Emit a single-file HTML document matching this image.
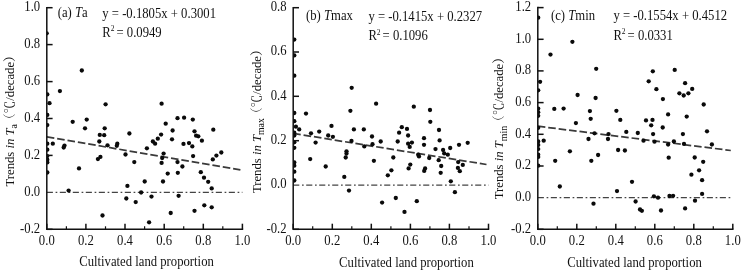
<!DOCTYPE html>
<html><head><meta charset="utf-8"><title>Trends vs cultivated land proportion</title>
<style>
html,body{margin:0;padding:0;background:#fff;}
svg{display:block}
text{font-family:"Liberation Serif","Noto Serif CJK SC",serif;fill:#111;}
.tk{font-size:12.7px}
.lb{font-size:12.7px}
.ax{stroke:#111;stroke-width:1.5;fill:none;stroke-linecap:butt}
.mt{stroke:#111;stroke-width:1.2;fill:none}
.reg{stroke:#3a3a3a;stroke-width:1.75;stroke-dasharray:7.6 2.9;fill:none}
.zero{stroke:#444;stroke-width:1.25;stroke-dasharray:6.1 2.7 1.7 2.5;fill:none}
circle{fill:#0a0a0a}
</style></head><body>
<svg width="742" height="271" viewBox="0 0 742 271">
<rect width="742" height="271" fill="#fff"/>

<g>
<line class="zero" x1="46.8" y1="192.4" x2="242.4" y2="192.4"/>
<line class="reg" x1="46.8" y1="136.9" x2="240.4" y2="169.9"/>
<clipPath id="c46"><rect x="46.8" y="0" width="198.6" height="229.3"/></clipPath>
<g clip-path="url(#c46)">
<circle cx="46.7" cy="33.3" r="2.15"/>
<circle cx="81.8" cy="70.5" r="2.15"/>
<circle cx="47.3" cy="94.4" r="2.15"/>
<circle cx="59.9" cy="91.1" r="2.15"/>
<circle cx="49.5" cy="103.2" r="2.15"/>
<circle cx="47.3" cy="114.9" r="2.15"/>
<circle cx="47.3" cy="125.1" r="2.15"/>
<circle cx="72.7" cy="121.8" r="2.15"/>
<circle cx="86.7" cy="119.6" r="2.15"/>
<circle cx="85.0" cy="128.3" r="2.15"/>
<circle cx="105.6" cy="104.3" r="2.15"/>
<circle cx="104.7" cy="128.3" r="2.15"/>
<circle cx="99.8" cy="134.9" r="2.15"/>
<circle cx="104.2" cy="135.2" r="2.15"/>
<circle cx="99.3" cy="141.5" r="2.15"/>
<circle cx="107.5" cy="145.3" r="2.15"/>
<circle cx="117.3" cy="143.7" r="2.15"/>
<circle cx="116.8" cy="145.8" r="2.15"/>
<circle cx="52.8" cy="143.7" r="2.15"/>
<circle cx="64.5" cy="145.6" r="2.15"/>
<circle cx="63.7" cy="147.5" r="2.15"/>
<circle cx="47.3" cy="143.7" r="2.15"/>
<circle cx="47.3" cy="149.7" r="2.15"/>
<circle cx="129.4" cy="133.5" r="2.15"/>
<circle cx="161.6" cy="103.7" r="2.15"/>
<circle cx="165.7" cy="123.7" r="2.15"/>
<circle cx="177.5" cy="118.2" r="2.15"/>
<circle cx="184.1" cy="117.7" r="2.15"/>
<circle cx="192.8" cy="119.6" r="2.15"/>
<circle cx="172.6" cy="130.5" r="2.15"/>
<circle cx="161.1" cy="134.6" r="2.15"/>
<circle cx="157.8" cy="138.7" r="2.15"/>
<circle cx="152.9" cy="141.5" r="2.15"/>
<circle cx="155.1" cy="143.7" r="2.15"/>
<circle cx="146.9" cy="148.3" r="2.15"/>
<circle cx="172.0" cy="139.3" r="2.15"/>
<circle cx="194.5" cy="131.3" r="2.15"/>
<circle cx="196.1" cy="135.7" r="2.15"/>
<circle cx="198.3" cy="136.3" r="2.15"/>
<circle cx="201.9" cy="140.7" r="2.15"/>
<circle cx="183.5" cy="143.9" r="2.15"/>
<circle cx="189.0" cy="143.1" r="2.15"/>
<circle cx="192.3" cy="146.4" r="2.15"/>
<circle cx="213.3" cy="129.7" r="2.15"/>
<circle cx="47.3" cy="156.1" r="2.15"/>
<circle cx="47.3" cy="159.7" r="2.15"/>
<circle cx="47.3" cy="162.4" r="2.15"/>
<circle cx="47.3" cy="172.5" r="2.15"/>
<circle cx="79.0" cy="168.4" r="2.15"/>
<circle cx="97.9" cy="159.1" r="2.15"/>
<circle cx="100.4" cy="156.9" r="2.15"/>
<circle cx="125.5" cy="154.5" r="2.15"/>
<circle cx="134.3" cy="162.1" r="2.15"/>
<circle cx="68.6" cy="190.6" r="2.15"/>
<circle cx="127.4" cy="185.9" r="2.15"/>
<circle cx="144.7" cy="181.5" r="2.15"/>
<circle cx="141.1" cy="192.5" r="2.15"/>
<circle cx="126.3" cy="198.5" r="2.15"/>
<circle cx="135.7" cy="202.1" r="2.15"/>
<circle cx="151.5" cy="196.6" r="2.15"/>
<circle cx="102.5" cy="215.5" r="2.15"/>
<circle cx="149.1" cy="222.3" r="2.15"/>
<circle cx="163.6" cy="153.6" r="2.15"/>
<circle cx="162.2" cy="158.0" r="2.15"/>
<circle cx="161.6" cy="162.9" r="2.15"/>
<circle cx="177.5" cy="162.1" r="2.15"/>
<circle cx="182.4" cy="166.5" r="2.15"/>
<circle cx="177.8" cy="172.8" r="2.15"/>
<circle cx="167.7" cy="173.6" r="2.15"/>
<circle cx="163.0" cy="181.5" r="2.15"/>
<circle cx="193.1" cy="156.1" r="2.15"/>
<circle cx="200.8" cy="172.2" r="2.15"/>
<circle cx="204.0" cy="177.7" r="2.15"/>
<circle cx="208.2" cy="181.8" r="2.15"/>
<circle cx="211.7" cy="188.4" r="2.15"/>
<circle cx="212.8" cy="159.4" r="2.15"/>
<circle cx="216.4" cy="155.6" r="2.15"/>
<circle cx="221.3" cy="152.5" r="2.15"/>
<circle cx="178.6" cy="195.8" r="2.15"/>
<circle cx="170.7" cy="213.0" r="2.15"/>
<circle cx="194.5" cy="210.8" r="2.15"/>
<circle cx="204.3" cy="205.3" r="2.15"/>
<circle cx="211.7" cy="207.3" r="2.15"/>
</g>
<path class="ax" d="M46.8 7.0V229.3H243.2"/>
<line class="ax" x1="46.8" y1="229.3" x2="52.6" y2="229.3"/>
<text class="tk" transform="translate(40.2 232.5) scale(1 1.11)" text-anchor="end">-0.2</text>
<text class="tk" transform="translate(40.2 195.6) scale(1 1.11)" text-anchor="end">0.0</text>
<line class="ax" x1="46.8" y1="155.4" x2="52.6" y2="155.4"/>
<text class="tk" transform="translate(40.2 158.6) scale(1 1.11)" text-anchor="end">0.2</text>
<line class="ax" x1="46.8" y1="118.5" x2="52.6" y2="118.5"/>
<text class="tk" transform="translate(40.2 121.7) scale(1 1.11)" text-anchor="end">0.4</text>
<line class="ax" x1="46.8" y1="81.6" x2="52.6" y2="81.6"/>
<text class="tk" transform="translate(40.2 84.8) scale(1 1.11)" text-anchor="end">0.6</text>
<line class="ax" x1="46.8" y1="44.6" x2="52.6" y2="44.6"/>
<text class="tk" transform="translate(40.2 47.8) scale(1 1.11)" text-anchor="end">0.8</text>
<line class="ax" x1="46.8" y1="7.7" x2="52.6" y2="7.7"/>
<text class="tk" transform="translate(40.2 10.9) scale(1 1.11)" text-anchor="end">1.0</text>
<line class="ax" x1="46.8" y1="229.3" x2="46.8" y2="223.7"/>
<text class="tk" transform="translate(46.8 245.2) scale(1 1.11)" text-anchor="middle">0.0</text>
<line class="mt" x1="66.4" y1="229.3" x2="66.4" y2="226.3"/>
<line class="ax" x1="85.9" y1="229.3" x2="85.9" y2="223.7"/>
<text class="tk" transform="translate(85.9 245.2) scale(1 1.11)" text-anchor="middle">0.2</text>
<line class="mt" x1="105.5" y1="229.3" x2="105.5" y2="226.3"/>
<line class="ax" x1="125.0" y1="229.3" x2="125.0" y2="223.7"/>
<text class="tk" transform="translate(125.0 245.2) scale(1 1.11)" text-anchor="middle">0.4</text>
<line class="mt" x1="144.6" y1="229.3" x2="144.6" y2="226.3"/>
<line class="ax" x1="164.2" y1="229.3" x2="164.2" y2="223.7"/>
<text class="tk" transform="translate(164.2 245.2) scale(1 1.11)" text-anchor="middle">0.6</text>
<line class="mt" x1="183.7" y1="229.3" x2="183.7" y2="226.3"/>
<line class="ax" x1="203.3" y1="229.3" x2="203.3" y2="223.7"/>
<text class="tk" transform="translate(203.3 245.2) scale(1 1.11)" text-anchor="middle">0.8</text>
<line class="mt" x1="222.8" y1="229.3" x2="222.8" y2="226.3"/>
<line class="ax" x1="242.4" y1="229.3" x2="242.4" y2="223.7"/>
<text class="tk" transform="translate(242.4 245.2) scale(1 1.11)" text-anchor="middle">1.0</text>
<text class="lb" transform="translate(57.7 17.3) scale(1 1.11)">(a) <tspan font-style="italic">T</tspan>a</text>
<text class="lb" transform="translate(102.3 18.2) scale(1 1.11)">y = -0.1805x + 0.3001</text>
<text class="lb" transform="translate(102.3 36.8) scale(1 1.11)">R<tspan font-size="7.5" dy="-5">2</tspan><tspan dy="5" dx="-1.2"> = 0.0949</tspan></text>
<text class="lb" transform="translate(79.2 265.6) scale(1 1.11)">Cultivated land proportion</text>
<text class="lb" transform="translate(13.7 117.9) rotate(-90)" text-anchor="middle">Trends <tspan font-style="italic">in T</tspan><tspan font-size="9.8" dy="3.7">a</tspan><tspan dy="-3.7" dx="-2">（℃/decade）</tspan></text>
</g>
<g>
<line class="zero" x1="293.2" y1="185.0" x2="488.5" y2="185.0"/>
<line class="reg" x1="293.2" y1="133.4" x2="486.5" y2="164.5"/>
<clipPath id="c293"><rect x="293.2" y="0" width="198.3" height="229.3"/></clipPath>
<g clip-path="url(#c293)">
<circle cx="294.3" cy="39.6" r="2.15"/>
<circle cx="294.3" cy="55.4" r="2.15"/>
<circle cx="294.3" cy="75.7" r="2.15"/>
<circle cx="294.3" cy="113.0" r="2.15"/>
<circle cx="294.3" cy="121.2" r="2.15"/>
<circle cx="295.9" cy="126.7" r="2.15"/>
<circle cx="294.3" cy="132.7" r="2.15"/>
<circle cx="294.3" cy="135.5" r="2.15"/>
<circle cx="299.2" cy="129.4" r="2.15"/>
<circle cx="294.3" cy="142.3" r="2.15"/>
<circle cx="294.3" cy="147.8" r="2.15"/>
<circle cx="306.0" cy="113.6" r="2.15"/>
<circle cx="311.0" cy="133.3" r="2.15"/>
<circle cx="315.6" cy="142.6" r="2.15"/>
<circle cx="319.2" cy="131.6" r="2.15"/>
<circle cx="328.2" cy="135.5" r="2.15"/>
<circle cx="331.5" cy="125.9" r="2.15"/>
<circle cx="332.9" cy="136.8" r="2.15"/>
<circle cx="351.7" cy="87.8" r="2.15"/>
<circle cx="350.4" cy="110.8" r="2.15"/>
<circle cx="353.9" cy="129.4" r="2.15"/>
<circle cx="351.5" cy="140.9" r="2.15"/>
<circle cx="346.5" cy="151.3" r="2.15"/>
<circle cx="363.8" cy="129.4" r="2.15"/>
<circle cx="364.3" cy="146.4" r="2.15"/>
<circle cx="372.0" cy="136.5" r="2.15"/>
<circle cx="372.5" cy="144.2" r="2.15"/>
<circle cx="380.7" cy="141.5" r="2.15"/>
<circle cx="376.1" cy="103.7" r="2.15"/>
<circle cx="397.7" cy="141.5" r="2.15"/>
<circle cx="399.1" cy="132.7" r="2.15"/>
<circle cx="401.8" cy="127.2" r="2.15"/>
<circle cx="407.0" cy="128.9" r="2.15"/>
<circle cx="408.1" cy="135.5" r="2.15"/>
<circle cx="408.1" cy="143.7" r="2.15"/>
<circle cx="411.9" cy="142.6" r="2.15"/>
<circle cx="409.7" cy="146.9" r="2.15"/>
<circle cx="413.8" cy="106.7" r="2.15"/>
<circle cx="430.0" cy="110.0" r="2.15"/>
<circle cx="430.3" cy="121.8" r="2.15"/>
<circle cx="424.0" cy="138.2" r="2.15"/>
<circle cx="424.0" cy="144.8" r="2.15"/>
<circle cx="439.0" cy="130.0" r="2.15"/>
<circle cx="439.6" cy="140.4" r="2.15"/>
<circle cx="435.5" cy="149.1" r="2.15"/>
<circle cx="443.1" cy="150.0" r="2.15"/>
<circle cx="450.2" cy="148.0" r="2.15"/>
<circle cx="459.0" cy="144.8" r="2.15"/>
<circle cx="467.7" cy="142.8" r="2.15"/>
<circle cx="294.3" cy="162.4" r="2.15"/>
<circle cx="294.3" cy="165.7" r="2.15"/>
<circle cx="294.3" cy="171.7" r="2.15"/>
<circle cx="294.3" cy="180.5" r="2.15"/>
<circle cx="310.2" cy="159.1" r="2.15"/>
<circle cx="325.7" cy="166.5" r="2.15"/>
<circle cx="346.5" cy="153.6" r="2.15"/>
<circle cx="345.7" cy="157.5" r="2.15"/>
<circle cx="344.3" cy="176.9" r="2.15"/>
<circle cx="349.0" cy="190.6" r="2.15"/>
<circle cx="373.9" cy="160.8" r="2.15"/>
<circle cx="393.3" cy="157.5" r="2.15"/>
<circle cx="391.4" cy="170.3" r="2.15"/>
<circle cx="387.8" cy="175.3" r="2.15"/>
<circle cx="382.1" cy="202.6" r="2.15"/>
<circle cx="395.8" cy="198.0" r="2.15"/>
<circle cx="404.5" cy="211.9" r="2.15"/>
<circle cx="418.2" cy="154.7" r="2.15"/>
<circle cx="419.0" cy="156.4" r="2.15"/>
<circle cx="410.3" cy="164.6" r="2.15"/>
<circle cx="408.6" cy="168.4" r="2.15"/>
<circle cx="425.1" cy="168.4" r="2.15"/>
<circle cx="424.2" cy="170.9" r="2.15"/>
<circle cx="429.2" cy="158.0" r="2.15"/>
<circle cx="416.8" cy="201.2" r="2.15"/>
<circle cx="438.7" cy="160.2" r="2.15"/>
<circle cx="441.2" cy="166.0" r="2.15"/>
<circle cx="440.7" cy="172.8" r="2.15"/>
<circle cx="444.2" cy="153.4" r="2.15"/>
<circle cx="447.8" cy="154.7" r="2.15"/>
<circle cx="450.8" cy="181.3" r="2.15"/>
<circle cx="454.9" cy="192.2" r="2.15"/>
<circle cx="458.2" cy="162.1" r="2.15"/>
<circle cx="457.9" cy="167.9" r="2.15"/>
<circle cx="459.8" cy="171.2" r="2.15"/>
<circle cx="462.8" cy="164.9" r="2.15"/>
</g>
<path class="ax" d="M293.2 7.0V229.3H489.2"/>
<line class="ax" x1="293.2" y1="229.3" x2="299.0" y2="229.3"/>
<text class="tk" transform="translate(286.6 232.5) scale(1 1.11)" text-anchor="end">-0.2</text>
<text class="tk" transform="translate(286.6 188.2) scale(1 1.11)" text-anchor="end">0.0</text>
<line class="ax" x1="293.2" y1="140.7" x2="299.0" y2="140.7"/>
<text class="tk" transform="translate(286.6 143.9) scale(1 1.11)" text-anchor="end">0.2</text>
<line class="ax" x1="293.2" y1="96.3" x2="299.0" y2="96.3"/>
<text class="tk" transform="translate(286.6 99.5) scale(1 1.11)" text-anchor="end">0.4</text>
<line class="ax" x1="293.2" y1="52.0" x2="299.0" y2="52.0"/>
<text class="tk" transform="translate(286.6 55.2) scale(1 1.11)" text-anchor="end">0.6</text>
<line class="ax" x1="293.2" y1="7.7" x2="299.0" y2="7.7"/>
<text class="tk" transform="translate(286.6 10.9) scale(1 1.11)" text-anchor="end">0.8</text>
<line class="ax" x1="293.2" y1="229.3" x2="293.2" y2="223.7"/>
<text class="tk" transform="translate(293.2 245.2) scale(1 1.11)" text-anchor="middle">0.0</text>
<line class="mt" x1="312.7" y1="229.3" x2="312.7" y2="226.3"/>
<line class="ax" x1="332.3" y1="229.3" x2="332.3" y2="223.7"/>
<text class="tk" transform="translate(332.3 245.2) scale(1 1.11)" text-anchor="middle">0.2</text>
<line class="mt" x1="351.8" y1="229.3" x2="351.8" y2="226.3"/>
<line class="ax" x1="371.3" y1="229.3" x2="371.3" y2="223.7"/>
<text class="tk" transform="translate(371.3 245.2) scale(1 1.11)" text-anchor="middle">0.4</text>
<line class="mt" x1="390.9" y1="229.3" x2="390.9" y2="226.3"/>
<line class="ax" x1="410.4" y1="229.3" x2="410.4" y2="223.7"/>
<text class="tk" transform="translate(410.4 245.2) scale(1 1.11)" text-anchor="middle">0.6</text>
<line class="mt" x1="429.9" y1="229.3" x2="429.9" y2="226.3"/>
<line class="ax" x1="449.4" y1="229.3" x2="449.4" y2="223.7"/>
<text class="tk" transform="translate(449.4 245.2) scale(1 1.11)" text-anchor="middle">0.8</text>
<line class="mt" x1="469.0" y1="229.3" x2="469.0" y2="226.3"/>
<line class="ax" x1="488.5" y1="229.3" x2="488.5" y2="223.7"/>
<text class="tk" transform="translate(488.5 245.2) scale(1 1.11)" text-anchor="middle">1.0</text>
<text class="lb" transform="translate(306.0 20.4) scale(1 1.11)">(b) <tspan font-style="italic">T</tspan>max</text>
<text class="lb" transform="translate(368.4 21.0) scale(1 1.11)">y = -0.1415x + 0.2327</text>
<text class="lb" transform="translate(368.4 40.1) scale(1 1.11)">R<tspan font-size="7.5" dy="-5">2</tspan><tspan dy="5" dx="-1.2"> = 0.1096</tspan></text>
<text class="lb" transform="translate(339.1 266.8) scale(1 1.11)">Cultivated land proportion</text>
<text class="lb" transform="translate(260.5 118.2) rotate(-90)" text-anchor="middle">Trends <tspan font-style="italic">in T</tspan><tspan font-size="9.8" dy="3.7">max</tspan><tspan dy="-3.7" dx="-2">（℃/decade）</tspan></text>
</g>
<g>
<line class="zero" x1="537.8" y1="197.6" x2="732.8" y2="197.6"/>
<line class="reg" x1="537.8" y1="126.2" x2="730.8" y2="150.5"/>
<clipPath id="c537"><rect x="537.8" y="0" width="198.0" height="229.3"/></clipPath>
<g clip-path="url(#c537)">
<circle cx="538.2" cy="17.7" r="2.15"/>
<circle cx="572.4" cy="41.8" r="2.15"/>
<circle cx="550.5" cy="54.6" r="2.15"/>
<circle cx="596.2" cy="68.8" r="2.15"/>
<circle cx="652.8" cy="71.3" r="2.15"/>
<circle cx="674.7" cy="69.9" r="2.15"/>
<circle cx="540.1" cy="81.8" r="2.15"/>
<circle cx="538.2" cy="90.3" r="2.15"/>
<circle cx="538.2" cy="108.6" r="2.15"/>
<circle cx="538.2" cy="112.2" r="2.15"/>
<circle cx="538.2" cy="115.8" r="2.15"/>
<circle cx="538.2" cy="127.8" r="2.15"/>
<circle cx="538.2" cy="141.5" r="2.15"/>
<circle cx="538.2" cy="145.0" r="2.15"/>
<circle cx="538.2" cy="149.1" r="2.15"/>
<circle cx="543.7" cy="140.7" r="2.15"/>
<circle cx="554.3" cy="108.9" r="2.15"/>
<circle cx="563.6" cy="108.6" r="2.15"/>
<circle cx="577.6" cy="95.0" r="2.15"/>
<circle cx="575.9" cy="123.1" r="2.15"/>
<circle cx="569.9" cy="151.3" r="2.15"/>
<circle cx="595.6" cy="98.0" r="2.15"/>
<circle cx="589.9" cy="111.1" r="2.15"/>
<circle cx="590.7" cy="118.8" r="2.15"/>
<circle cx="594.5" cy="133.3" r="2.15"/>
<circle cx="588.5" cy="139.0" r="2.15"/>
<circle cx="608.5" cy="134.1" r="2.15"/>
<circle cx="608.0" cy="139.0" r="2.15"/>
<circle cx="616.4" cy="110.8" r="2.15"/>
<circle cx="620.3" cy="119.9" r="2.15"/>
<circle cx="626.3" cy="131.9" r="2.15"/>
<circle cx="618.1" cy="150.0" r="2.15"/>
<circle cx="624.9" cy="150.5" r="2.15"/>
<circle cx="637.8" cy="133.0" r="2.15"/>
<circle cx="643.5" cy="140.7" r="2.15"/>
<circle cx="646.0" cy="120.4" r="2.15"/>
<circle cx="652.5" cy="119.9" r="2.15"/>
<circle cx="651.2" cy="125.3" r="2.15"/>
<circle cx="653.1" cy="134.1" r="2.15"/>
<circle cx="654.5" cy="141.7" r="2.15"/>
<circle cx="648.7" cy="81.3" r="2.15"/>
<circle cx="656.4" cy="89.2" r="2.15"/>
<circle cx="662.9" cy="99.1" r="2.15"/>
<circle cx="668.1" cy="114.4" r="2.15"/>
<circle cx="662.7" cy="127.5" r="2.15"/>
<circle cx="668.1" cy="144.5" r="2.15"/>
<circle cx="673.9" cy="141.5" r="2.15"/>
<circle cx="679.4" cy="93.3" r="2.15"/>
<circle cx="683.7" cy="95.5" r="2.15"/>
<circle cx="685.1" cy="83.2" r="2.15"/>
<circle cx="688.4" cy="93.3" r="2.15"/>
<circle cx="692.2" cy="88.9" r="2.15"/>
<circle cx="686.7" cy="116.6" r="2.15"/>
<circle cx="682.9" cy="134.1" r="2.15"/>
<circle cx="684.0" cy="143.9" r="2.15"/>
<circle cx="703.7" cy="104.5" r="2.15"/>
<circle cx="707.0" cy="131.3" r="2.15"/>
<circle cx="711.9" cy="144.5" r="2.15"/>
<circle cx="538.2" cy="154.7" r="2.15"/>
<circle cx="538.2" cy="156.9" r="2.15"/>
<circle cx="538.2" cy="165.7" r="2.15"/>
<circle cx="555.2" cy="160.8" r="2.15"/>
<circle cx="559.8" cy="186.5" r="2.15"/>
<circle cx="591.3" cy="160.8" r="2.15"/>
<circle cx="598.1" cy="155.0" r="2.15"/>
<circle cx="593.5" cy="203.7" r="2.15"/>
<circle cx="617.0" cy="191.1" r="2.15"/>
<circle cx="632.0" cy="181.8" r="2.15"/>
<circle cx="635.6" cy="201.5" r="2.15"/>
<circle cx="640.0" cy="209.5" r="2.15"/>
<circle cx="641.9" cy="210.8" r="2.15"/>
<circle cx="653.9" cy="196.3" r="2.15"/>
<circle cx="658.0" cy="197.7" r="2.15"/>
<circle cx="661.0" cy="210.5" r="2.15"/>
<circle cx="668.7" cy="157.7" r="2.15"/>
<circle cx="669.5" cy="196.0" r="2.15"/>
<circle cx="673.1" cy="195.8" r="2.15"/>
<circle cx="685.1" cy="208.4" r="2.15"/>
<circle cx="691.4" cy="174.7" r="2.15"/>
<circle cx="694.7" cy="157.5" r="2.15"/>
<circle cx="699.1" cy="170.3" r="2.15"/>
<circle cx="703.2" cy="161.8" r="2.15"/>
<circle cx="702.1" cy="180.2" r="2.15"/>
<circle cx="702.1" cy="193.9" r="2.15"/>
<circle cx="695.0" cy="200.7" r="2.15"/>
</g>
<path class="ax" d="M537.8 6.8V229.3H733.5"/>
<line class="ax" x1="537.8" y1="229.3" x2="543.6" y2="229.3"/>
<text class="tk" transform="translate(531.2 232.5) scale(1 1.11)" text-anchor="end">-0.2</text>
<text class="tk" transform="translate(531.2 200.8) scale(1 1.11)" text-anchor="end">0.0</text>
<line class="ax" x1="537.8" y1="166.0" x2="543.6" y2="166.0"/>
<text class="tk" transform="translate(531.2 169.2) scale(1 1.11)" text-anchor="end">0.2</text>
<line class="ax" x1="537.8" y1="134.3" x2="543.6" y2="134.3"/>
<text class="tk" transform="translate(531.2 137.5) scale(1 1.11)" text-anchor="end">0.4</text>
<line class="ax" x1="537.8" y1="102.6" x2="543.6" y2="102.6"/>
<text class="tk" transform="translate(531.2 105.8) scale(1 1.11)" text-anchor="end">0.6</text>
<line class="ax" x1="537.8" y1="70.9" x2="543.6" y2="70.9"/>
<text class="tk" transform="translate(531.2 74.1) scale(1 1.11)" text-anchor="end">0.8</text>
<line class="ax" x1="537.8" y1="39.3" x2="543.6" y2="39.3"/>
<text class="tk" transform="translate(531.2 42.5) scale(1 1.11)" text-anchor="end">1.0</text>
<line class="ax" x1="537.8" y1="7.6" x2="543.6" y2="7.6"/>
<text class="tk" transform="translate(531.2 10.8) scale(1 1.11)" text-anchor="end">1.2</text>
<line class="ax" x1="537.8" y1="229.3" x2="537.8" y2="223.7"/>
<text class="tk" transform="translate(537.8 245.2) scale(1 1.11)" text-anchor="middle">0.0</text>
<line class="mt" x1="557.3" y1="229.3" x2="557.3" y2="226.3"/>
<line class="ax" x1="576.8" y1="229.3" x2="576.8" y2="223.7"/>
<text class="tk" transform="translate(576.8 245.2) scale(1 1.11)" text-anchor="middle">0.2</text>
<line class="mt" x1="596.3" y1="229.3" x2="596.3" y2="226.3"/>
<line class="ax" x1="615.8" y1="229.3" x2="615.8" y2="223.7"/>
<text class="tk" transform="translate(615.8 245.2) scale(1 1.11)" text-anchor="middle">0.4</text>
<line class="mt" x1="635.3" y1="229.3" x2="635.3" y2="226.3"/>
<line class="ax" x1="654.8" y1="229.3" x2="654.8" y2="223.7"/>
<text class="tk" transform="translate(654.8 245.2) scale(1 1.11)" text-anchor="middle">0.6</text>
<line class="mt" x1="674.3" y1="229.3" x2="674.3" y2="226.3"/>
<line class="ax" x1="693.8" y1="229.3" x2="693.8" y2="223.7"/>
<text class="tk" transform="translate(693.8 245.2) scale(1 1.11)" text-anchor="middle">0.8</text>
<line class="mt" x1="713.3" y1="229.3" x2="713.3" y2="226.3"/>
<line class="ax" x1="732.8" y1="229.3" x2="732.8" y2="223.7"/>
<text class="tk" transform="translate(732.8 245.2) scale(1 1.11)" text-anchor="middle">1.0</text>
<text class="lb" transform="translate(551.0 19.9) scale(1 1.11)">(c) <tspan font-style="italic">T</tspan>min</text>
<text class="lb" transform="translate(613.4 19.9) scale(1 1.11)">y = -0.1554x + 0.4512</text>
<text class="lb" transform="translate(613.4 39.6) scale(1 1.11)">R<tspan font-size="7.5" dy="-5">2</tspan><tspan dy="5" dx="-1.2"> = 0.0331</tspan></text>
<text class="lb" transform="translate(567.2 266.8) scale(1 1.11)">Cultivated land proportion</text>
<text class="lb" transform="translate(503.4 125.2) rotate(-90)" text-anchor="middle">Trends <tspan font-style="italic">in T</tspan><tspan font-size="9.8" dy="3.7">min</tspan><tspan dy="-3.7" dx="-2">（℃/decade）</tspan></text>
</g>
</svg>
</body></html>
